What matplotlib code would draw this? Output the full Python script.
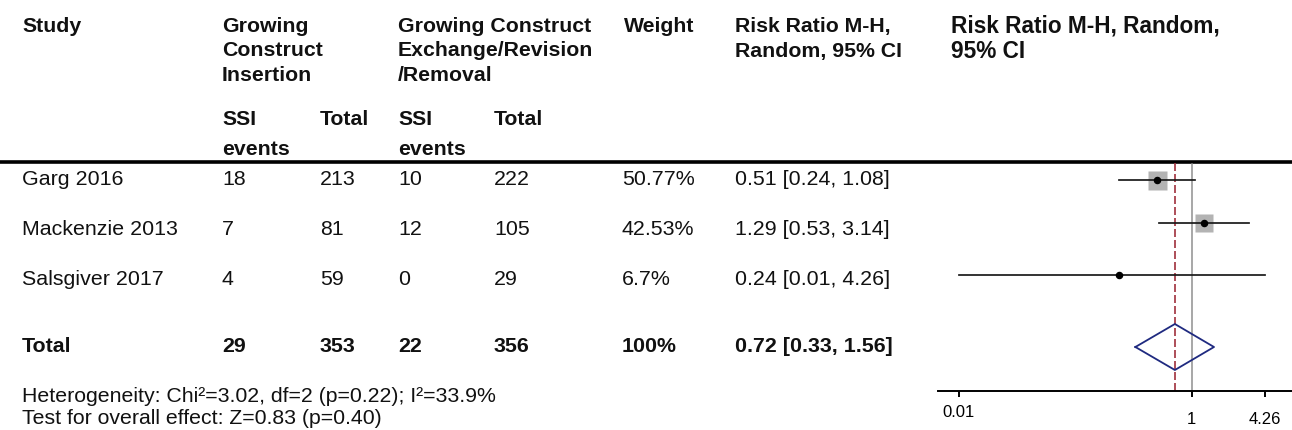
import matplotlib
matplotlib.use("Agg")
import matplotlib.pyplot as plt
from matplotlib.ticker import FixedLocator, FixedFormatter

plt.rcParams["font.family"] = ["Liberation Sans", "DejaVu Sans"]

# data
studies = ["Garg 2016", "Mackenzie 2013", "Salsgiver 2017"]
ins_events = [18, 7, 4]
ins_total = [213, 81, 59]
exc_events = [10, 12, 0]
exc_total = [222, 105, 29]
weights = [50.77, 42.53, 6.7]
rr = [0.51, 1.29, 0.24]
rr_lo = [0.24, 0.53, 0.01]
rr_hi = [1.08, 3.14, 4.26]

tot_ins_events, tot_ins_total = 29, 353
tot_exc_events, tot_exc_total = 22, 356
tot_weight = "100%"
pooled_rr, pooled_lo, pooled_hi = 0.72, 0.33, 1.56

het_text = "Heterogeneity: Chi\u00b2=3.02, df=2 (p=0.22); I\u00b2=33.9%"
effect_text = "Test for overall effect: Z=0.83 (p=0.40)"
tick_vals = [0.01, 1, 4.26]
tick_labels = ["0.01", "1", "4.26"]

# layout (pixels from top-left)
W, H = 1292, 431
col_x = [22, 222, 320, 398, 494, 622, 735]
row_y = [180, 229.5, 280]      # table text rows
total_y = 347
plot_y = [181, 224, 276]       # forest rows
diamond_y = 348
fs = 15.4
hfs = 15.3

fig = plt.figure(figsize=(W / 100, H / 100), dpi=100)
tab = fig.add_axes([0, 0, 1, 1])
tab.set_xlim(0, W)
tab.set_ylim(H, 0)
tab.axis("off")


def txt(x, y, s, bold=False, size=fs):
    tab.text(x, y, s, fontsize=size, fontweight="bold" if bold else "normal",
             ha="left", va="center", color="#111111")


# header
headers = [
    (col_x[0], ["Study"], hfs),
    (col_x[1], ["Growing", "Construct", "Insertion"], hfs),
    (col_x[3], ["Growing Construct", "Exchange/Revision", "/Removal"], hfs),
    (col_x[5] + 2, ["Weight"], hfs),
    (col_x[6], ["Risk Ratio M-H,", "Random, 95% CI"], hfs),
    (951, ["Risk Ratio M-H, Random,", "95% CI"], 16.3),
]
for x, lines, size in headers:
    for i, line in enumerate(lines):
        txt(x, 26.5 + i * 24.5, line, bold=True, size=size)

for x, lines in [(col_x[1], ["SSI", "events"]), (col_x[2], ["Total"]),
                 (col_x[3], ["SSI", "events"]), (col_x[4], ["Total"])]:
    for i, line in enumerate(lines):
        txt(x, 120 + i * 30, line, bold=True, size=hfs)

tab.plot([0, W], [163, 163], color="black", lw=2.6, solid_capstyle="butt")

# study rows
for i, name in enumerate(studies):
    y = row_y[i]
    txt(col_x[0], y, name)
    txt(col_x[1], y, str(ins_events[i]))
    txt(col_x[2], y, str(ins_total[i]))
    txt(col_x[3], y, str(exc_events[i]))
    txt(col_x[4], y, str(exc_total[i]))
    txt(col_x[5], y, f"{weights[i]}%")
    txt(col_x[6], y, f"{rr[i]:.2f} [{rr_lo[i]:.2f}, {rr_hi[i]:.2f}]")

# total row
txt(col_x[0], total_y, "Total", bold=True)
txt(col_x[1], total_y, str(tot_ins_events), bold=True)
txt(col_x[2], total_y, str(tot_ins_total), bold=True)
txt(col_x[3], total_y, str(tot_exc_events), bold=True)
txt(col_x[4], total_y, str(tot_exc_total), bold=True)
txt(col_x[5], total_y, tot_weight, bold=True)
txt(col_x[6], total_y, f"{pooled_rr:.2f} [{pooled_lo:.2f}, {pooled_hi:.2f}]", bold=True)

txt(col_x[0], 397, het_text, size=15.3)
txt(col_x[0], 418.5, effect_text, size=15.3)

# forest plot
ax_l, ax_r, ax_t, ax_b = 938, 1292, 163, 392
ax = fig.add_axes([ax_l / W, (H - ax_b) / H, (ax_r - ax_l) / W, (ax_b - ax_t) / H])
ax.set_xscale("log")
dec = 116.5
x0 = 958.5
ax.set_xlim(10 ** (-2 + (ax_l - x0) / dec), 10 ** (-2 + (ax_r - x0) / dec))
ax.set_ylim(ax_b, ax_t)
ax.patch.set_alpha(0)
for s in ["top", "left", "right"]:
    ax.spines[s].set_visible(False)
ax.spines["bottom"].set_linewidth(1.4)
ax.set_yticks([])

ax.axvline(1, ymin=0, ymax=(ax_b - 165) / (ax_b - ax_t), color="#8f8f8f", lw=1.1, zorder=1)
ax.axvline(pooled_rr, color="#a0303c", lw=1.2, ls=(0, (4.8, 1.8)), zorder=1)

for i in range(len(studies)):
    y = plot_y[i]
    side = 19 * (weights[i] / weights[0]) ** 0.5 * 0.72
    if weights[i] > 10:
        ax.plot(rr[i], y, marker="s", ms=side, color="#b3b3b3", mec="none", zorder=2)
    ax.plot([rr_lo[i], rr_hi[i]], [y, y], color="#1a1a1a", lw=1.25, zorder=3)
    ax.plot(rr[i], y, marker="o", ms=4.4, color="black", zorder=4)

ax.plot([pooled_lo, pooled_rr, pooled_hi, pooled_rr, pooled_lo],
        [diamond_y, diamond_y - 23, diamond_y, diamond_y + 23, diamond_y],
        color="#1f2a80", lw=1.3, zorder=4)

# 0.01 label sits higher than the other two
ax.xaxis.set_major_locator(FixedLocator(tick_vals[1:]))
ax.xaxis.set_major_formatter(FixedFormatter(tick_labels[1:]))
ax.xaxis.set_minor_locator(FixedLocator(tick_vals[:1]))
ax.xaxis.set_minor_formatter(FixedFormatter(tick_labels[:1]))
ax.tick_params(axis="x", which="major", length=4.5, width=1.4, pad=10, labelsize=12)
ax.tick_params(axis="x", which="minor", length=4.5, width=1.4, pad=5, labelsize=12)

fig.savefig("out.png", dpi=100)
